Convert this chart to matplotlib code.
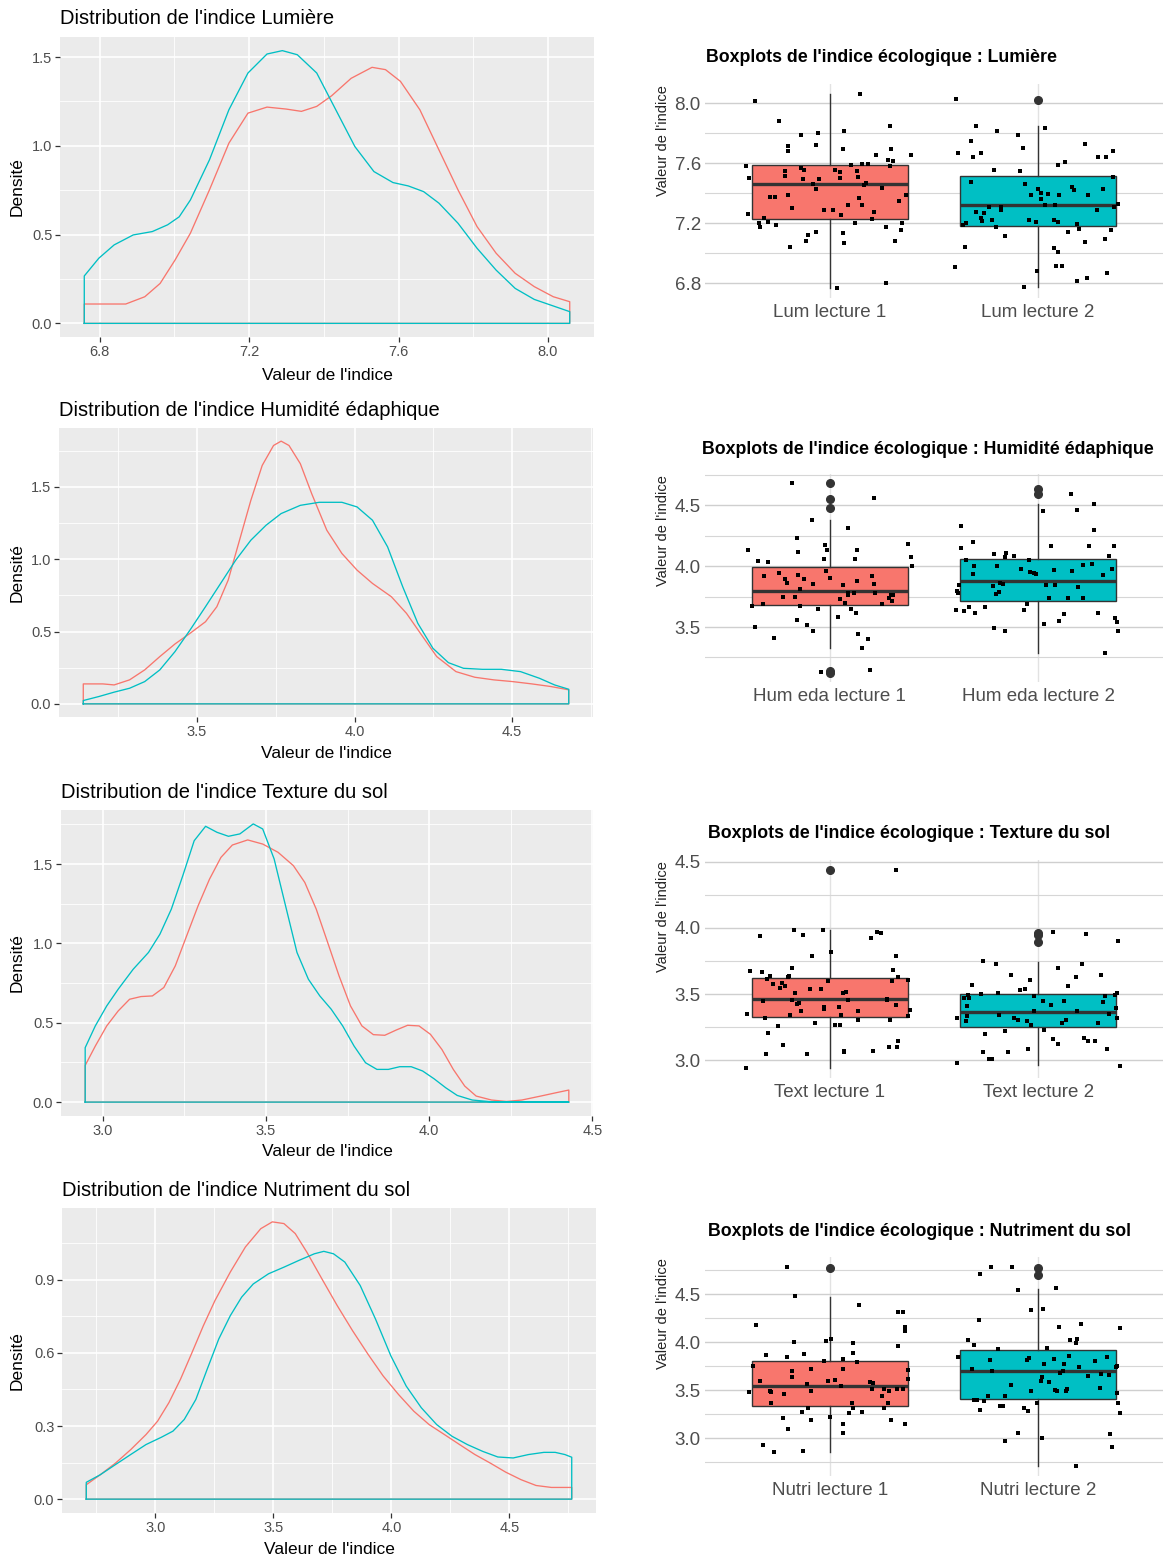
import numpy as np
import matplotlib.pyplot as plt
from matplotlib.ticker import MultipleLocator, FixedLocator

plt.rcParams['font.family'] = ['Liberation Sans', 'DejaVu Sans']

W, H = 1164, 1562
RED = "#F8766D"
TEAL = "#00BFC4"

# ---------------- density curves ----------------
lum_red_x = [6.759, 6.870, 6.921, 6.962, 7.002, 7.043, 7.094, 7.146, 7.197, 7.248, 7.299, 7.340, 7.381,
             7.421, 7.473, 7.529, 7.565, 7.605, 7.657, 7.708, 7.759, 7.810, 7.861, 7.912, 7.963, 8.014, 8.058]
lum_red_y = [0.109, 0.109, 0.150, 0.225, 0.357, 0.508, 0.752, 1.015, 1.184, 1.218, 1.207, 1.194, 1.222,
             1.282, 1.380, 1.442, 1.429, 1.363, 1.203, 0.977, 0.752, 0.545, 0.395, 0.282, 0.207, 0.150, 0.122]
lum_teal_x = [6.759, 6.798, 6.839, 6.890, 6.941, 6.982, 7.013, 7.043, 7.094, 7.146, 7.197, 7.248, 7.289,
              7.329, 7.381, 7.432, 7.483, 7.534, 7.585, 7.626, 7.667, 7.708, 7.759, 7.810, 7.861, 7.912,
              7.963, 8.014, 8.058]
lum_teal_y = [0.267, 0.367, 0.442, 0.498, 0.517, 0.555, 0.600, 0.695, 0.921, 1.203, 1.410, 1.517, 1.536,
              1.513, 1.410, 1.203, 0.996, 0.855, 0.793, 0.774, 0.742, 0.677, 0.564, 0.423, 0.300, 0.197,
              0.135, 0.098, 0.066]

hum_red_x = [3.139, 3.201, 3.237, 3.286, 3.334, 3.382, 3.430, 3.478, 3.527, 3.563, 3.599, 3.635, 3.671,
             3.707, 3.743, 3.767, 3.792, 3.828, 3.864, 3.912, 3.960, 4.008, 4.057, 4.117, 4.165, 4.213,
             4.261, 4.322, 4.382, 4.442, 4.502, 4.563, 4.623, 4.680]
hum_red_y = [0.138, 0.138, 0.131, 0.166, 0.235, 0.327, 0.414, 0.488, 0.568, 0.672, 0.856, 1.132, 1.408,
             1.649, 1.787, 1.817, 1.787, 1.661, 1.454, 1.201, 1.040, 0.925, 0.833, 0.741, 0.626, 0.476,
             0.327, 0.223, 0.184, 0.166, 0.154, 0.138, 0.120, 0.097]
hum_teal_x = [3.139, 3.189, 3.237, 3.286, 3.334, 3.382, 3.430, 3.478, 3.527, 3.575, 3.623, 3.671, 3.719,
              3.767, 3.828, 3.888, 3.960, 4.008, 4.057, 4.105, 4.153, 4.201, 4.249, 4.298, 4.346, 4.406,
              4.466, 4.527, 4.587, 4.635, 4.680]
hum_teal_y = [0.023, 0.051, 0.081, 0.108, 0.154, 0.235, 0.361, 0.511, 0.672, 0.833, 0.994, 1.132, 1.235,
              1.316, 1.373, 1.394, 1.394, 1.362, 1.270, 1.086, 0.810, 0.557, 0.384, 0.285, 0.246, 0.239,
              0.239, 0.223, 0.177, 0.131, 0.101]

tex_red_x = [2.946, 2.977, 3.012, 3.047, 3.082, 3.117, 3.152, 3.187, 3.222, 3.257, 3.292, 3.327, 3.362,
             3.397, 3.444, 3.490, 3.537, 3.584, 3.619, 3.654, 3.689, 3.724, 3.759, 3.794, 3.829, 3.864,
             3.899, 3.934, 3.969, 4.004, 4.039, 4.074, 4.109, 4.144, 4.191, 4.237, 4.284, 4.342, 4.389, 4.428]
tex_red_y = [0.231, 0.353, 0.480, 0.574, 0.648, 0.665, 0.669, 0.722, 0.858, 1.048, 1.237, 1.405, 1.542,
             1.620, 1.652, 1.626, 1.574, 1.490, 1.384, 1.216, 1.006, 0.795, 0.606, 0.480, 0.425, 0.421,
             0.454, 0.484, 0.480, 0.427, 0.332, 0.206, 0.101, 0.038, 0.013, 0.004, 0.013, 0.038, 0.059, 0.076]
tex_teal_x = [2.946, 2.977, 3.012, 3.047, 3.093, 3.140, 3.175, 3.210, 3.245, 3.280, 3.315, 3.350, 3.385,
              3.420, 3.461, 3.490, 3.525, 3.560, 3.595, 3.630, 3.665, 3.700, 3.735, 3.770, 3.805, 3.840,
              3.875, 3.910, 3.945, 3.980, 4.015, 4.051, 4.086, 4.132, 4.191, 4.261, 4.428]
tex_teal_y = [0.343, 0.480, 0.606, 0.711, 0.837, 0.943, 1.058, 1.216, 1.426, 1.647, 1.738, 1.700, 1.675,
              1.690, 1.753, 1.721, 1.532, 1.237, 0.943, 0.774, 0.669, 0.585, 0.480, 0.353, 0.248, 0.206,
              0.206, 0.223, 0.223, 0.196, 0.147, 0.090, 0.042, 0.013, 0.002, 0.0, 0.0]

nut_red_x = [2.708, 2.767, 2.832, 2.896, 2.961, 3.010, 3.058, 3.107, 3.156, 3.204, 3.253, 3.318, 3.382,
             3.447, 3.496, 3.545, 3.593, 3.642, 3.706, 3.771, 3.836, 3.901, 3.965, 4.030, 4.095, 4.160,
             4.225, 4.289, 4.354, 4.419, 4.484, 4.549, 4.613, 4.678, 4.764]
nut_red_y = [0.059, 0.100, 0.148, 0.203, 0.265, 0.320, 0.396, 0.492, 0.602, 0.712, 0.815, 0.932, 1.035,
             1.110, 1.138, 1.131, 1.090, 1.014, 0.904, 0.794, 0.691, 0.595, 0.506, 0.430, 0.361, 0.306,
             0.265, 0.224, 0.183, 0.148, 0.111, 0.080, 0.056, 0.048, 0.048]
nut_teal_x = [2.708, 2.767, 2.832, 2.896, 2.961, 3.026, 3.075, 3.123, 3.172, 3.220, 3.269, 3.318, 3.366,
              3.415, 3.480, 3.545, 3.609, 3.674, 3.714, 3.755, 3.803, 3.868, 3.933, 3.998, 4.063, 4.127,
              4.192, 4.257, 4.322, 4.387, 4.451, 4.516, 4.581, 4.646, 4.694, 4.735, 4.764]
nut_teal_y = [0.069, 0.100, 0.142, 0.183, 0.224, 0.254, 0.279, 0.327, 0.409, 0.533, 0.657, 0.753, 0.829,
              0.883, 0.925, 0.952, 0.980, 1.007, 1.017, 1.007, 0.973, 0.877, 0.739, 0.588, 0.464, 0.375,
              0.306, 0.258, 0.224, 0.196, 0.173, 0.169, 0.183, 0.192, 0.192, 0.183, 0.172]

# ---------------- boxplot statistics ----------------
# (whislo, q1, med, q3, whishi)
lum_box = [(6.767, 7.225, 7.460, 7.586, 8.062), (6.774, 7.181, 7.320, 7.513, 7.845)]
lum_fliers = [[], [8.022]]
hum_box = [(3.324, 3.684, 3.797, 3.989, 4.376), (3.286, 3.712, 3.874, 4.055, 4.508)]
hum_fliers = [[4.679, 4.555, 4.478, 3.140, 3.126], [4.632, 4.591]]
tex_box = [(2.941, 3.324, 3.466, 3.622, 3.987), (2.961, 3.249, 3.362, 3.501, 3.743)]
tex_fliers = [[4.436], [3.962, 3.945, 3.894]]
nut_box = [(2.862, 3.332, 3.548, 3.802, 4.470), (2.712, 3.412, 3.697, 3.923, 4.557)]
nut_fliers = [[4.776], [4.776, 4.696]]

# ---------------- jittered points: horizontal offset, value ----------------
lum1_off = [-0.36, -0.246, -0.402, -0.388, -0.395, -0.343, -0.336, -0.315, -0.295, -0.286, -0.263, -0.26,
            -0.199, -0.191, -0.18, -0.217, -0.215, -0.199, -0.199, -0.139, -0.139, -0.125, -0.13, -0.116,
            -0.104, -0.069, -0.069, -0.066, -0.081, -0.055, -0.052, -0.026, 0.017, 0.026, 0.035, 0.049,
            0.049, 0.052, 0.061, 0.066, 0.062, 0.069, 0.087, 0.101, 0.121, 0.13, 0.135, 0.139, 0.146, 0.153,
            0.153, 0.163, 0.173, 0.182, 0.201, 0.211, 0.222, 0.251, 0.269, 0.269, 0.277, 0.288, 0.291,
            0.295, 0.303, 0.312, 0.333, 0.34, 0.347, 0.364, 0.39]
lum1_val = [8.011, 7.88, 7.579, 7.502, 7.263, 7.199, 7.172, 7.236, 7.205, 7.376, 7.376, 7.185, 7.387, 7.044,
            7.303, 7.546, 7.517, 7.712, 7.681, 7.785, 7.568, 7.553, 7.493, 7.079, 7.121, 7.143, 7.721,
            7.427, 7.464, 7.803, 7.493, 7.287, 7.285, 7.557, 6.767, 7.504, 7.542, 7.252, 7.137, 7.066,
            7.697, 7.812, 7.32, 7.59, 7.203, 7.546, 7.506, 7.369, 8.062, 7.318, 7.595, 7.455, 7.469, 7.595,
            7.23, 7.278, 7.655, 7.433, 6.8, 7.176, 7.624, 7.847, 7.579, 7.697, 7.615, 7.079, 7.349, 7.154,
            7.203, 7.385, 7.657]
lum2_off = [-0.393, -0.385, -0.321, -0.3, -0.314, -0.272, -0.324, -0.199, -0.095, -0.071, -0.088, -0.213,
            -0.296, -0.258, -0.272, -0.27, -0.234, -0.22, -0.179, -0.179, -0.359, -0.348, -0.352, -0.397,
            -0.203, -0.158, -0.068, -0.007, 0.033, -0.064, -0.033, 0.0, 0.014, 0.016, 0.049, -0.042, -0.012,
            0.033, 0.083, 0.078, 0.095, 0.095, 0.13, 0.101, 0.078, 0.095, 0.088, 0.114, 0.144, 0.172, 0.161,
            0.187, 0.196, 0.227, 0.227, 0.234, 0.187, 0.239, 0.282, 0.286, 0.314, 0.326, 0.322, 0.331,
            0.348, 0.36, 0.362, 0.366, 0.386]
lum2_val = [8.024, 7.67, 7.745, 7.845, 7.639, 7.67, 7.475, 7.812, 7.787, 7.703, 7.548, 7.557, 7.276, 7.269,
            7.232, 7.216, 7.305, 7.221, 7.287, 7.305, 7.187, 7.203, 7.039, 6.906, 7.176, 7.114, 6.778,
            6.884, 7.836, 7.46, 7.387, 7.431, 7.358, 7.398, 7.394, 7.221, 7.21, 7.32, 7.32, 7.221, 7.21,
            7.59, 7.608, 7.387, 7.033, 7.01, 6.915, 6.915, 7.139, 7.424, 7.442, 7.192, 7.161, 7.73, 7.077,
            6.833, 6.818, 7.387, 7.287, 7.641, 7.431, 7.641, 7.092, 6.871, 7.154, 7.679, 7.509, 7.309, 7.331]

hum1_off = [-0.392, -0.373, -0.358, -0.344, -0.317, -0.32, -0.296, -0.267, -0.245, -0.223, -0.214, -0.207,
            -0.182, -0.166, -0.159, -0.158, -0.151, -0.151, -0.146, -0.146, -0.125, -0.111, -0.086, -0.082,
            -0.08, -0.057, -0.043, -0.029, -0.022, -0.019, -0.012, 0.002, 0.038, 0.05, 0.063, 0.072, 0.086,
            0.087, 0.087, 0.101, 0.115, 0.123, 0.128, 0.135, 0.12, 0.132, 0.156, 0.183, 0.192, 0.204, 0.212,
            0.217, 0.212, 0.252, 0.286, 0.296, 0.295, 0.303, 0.375, 0.389, 0.392]
hum1_val = [4.129, 3.676, 3.503, 4.041, 3.915, 3.69, 4.033, 3.412, 3.942, 3.745, 3.896, 3.865, 4.679, 3.745,
            4.234, 3.555, 4.113, 3.931, 3.813, 3.673, 3.893, 3.519, 4.376, 3.47, 3.854, 3.648, 3.132, 4.06,
            4.176, 3.964, 4.129, 3.904, 3.58, 3.728, 3.841, 3.695, 4.316, 3.766, 3.777, 3.648, 3.777, 3.618,
            4.135, 3.442, 4.06, 3.876, 3.324, 3.401, 3.146, 3.923, 4.563, 3.777, 3.854, 3.69, 3.739, 3.717,
            3.766, 3.766, 4.179, 4.074, 4.005]
hum2_off = [-0.389, -0.384, -0.378, -0.392, -0.368, -0.368, -0.358, -0.344, -0.33, -0.312, -0.303, -0.312,
            -0.307, -0.255, -0.212, -0.217, -0.212, -0.2, -0.197, -0.19, -0.185, -0.17, -0.161, -0.159,
            -0.152, -0.115, -0.08, -0.067, -0.055, -0.046, -0.038, -0.022, -0.009, 0.022, 0.029, 0.039,
            0.053, 0.06, 0.082, 0.077, 0.099, 0.125, 0.142, 0.159, 0.163, 0.185, 0.193, 0.214, 0.217, 0.245,
            0.26, 0.267, 0.267, 0.288, 0.313, 0.322, 0.339, 0.356, 0.365, 0.37, 0.377, 0.382]
hum2_val = [3.794, 3.777, 3.849, 3.64, 4.327, 4.148, 3.629, 4.047, 3.668, 4.198, 3.613, 3.937, 3.997, 3.668,
            4.102, 3.835, 3.492, 3.772, 3.997, 3.786, 3.86, 3.854, 3.47, 4.074, 4.107, 4.08, 3.978, 3.64,
            3.69, 4.047, 3.953, 3.942, 3.937, 4.453, 3.525, 3.849, 3.739, 4.168, 3.849, 3.97, 3.552, 3.607,
            3.739, 4.591, 3.959, 4.459, 3.832, 3.739, 4.011, 4.162, 4.019, 4.514, 4.294, 3.613, 3.931, 3.283,
            4.08, 3.973, 4.162, 3.574, 3.544, 3.47]

tex1_off = [-0.404, -0.398, -0.386, -0.337, -0.325, -0.319, -0.311, -0.307, -0.302, -0.298, -0.289, -0.272,
            -0.249, -0.24, -0.228, -0.223, -0.218, -0.202, -0.195, -0.193, -0.184, -0.184, -0.172, -0.167,
            -0.156, -0.149, -0.14, -0.13, -0.109, -0.096, -0.084, -0.074, -0.044, -0.035, -0.03, -0.026,
            -0.009, 0.005, 0.026, 0.044, 0.047, 0.054, 0.061, 0.068, 0.068, 0.079, 0.089, 0.135, 0.135,
            0.195, 0.205, 0.226, 0.246, 0.272, 0.272, 0.282, 0.289, 0.298, 0.302, 0.316, 0.318, 0.319,
            0.321, 0.325, 0.328, 0.374, 0.377, 0.384]
tex1_val = [2.941, 3.352, 3.672, 3.937, 3.665, 3.445, 3.319, 3.045, 3.612, 3.206, 3.635, 3.579, 3.256, 3.546,
            3.584, 3.113, 3.561, 3.632, 3.634, 3.34, 3.697, 3.455, 3.987, 3.508, 3.425, 3.433, 3.37, 3.95,
            3.045, 3.541, 3.786, 3.284, 3.541, 3.987, 3.4, 3.385, 3.597, 3.819, 3.264, 3.402, 3.264, 3.34,
            3.506, 3.072, 3.062, 3.516, 3.458, 3.304, 3.37, 3.924, 3.067, 3.97, 3.96, 3.466, 3.455, 3.103,
            3.302, 3.597, 3.682, 3.786, 3.42, 4.439, 3.103, 3.143, 3.627, 3.609, 3.332, 3.377]
tex2_off = [-0.389, -0.389, -0.354, -0.346, -0.342, -0.342, -0.339, -0.333, -0.316, -0.272, -0.263, -0.263,
            -0.254, -0.237, -0.219, -0.202, -0.191, -0.188, -0.158, -0.144, -0.128, -0.114, -0.096, -0.088,
            -0.061, -0.051, -0.049, -0.04, -0.035, -0.021, -0.018, 0.026, 0.023, 0.072, 0.061, 0.074, 0.096,
            0.096, 0.114, 0.123, 0.132, 0.142, 0.181, 0.188, 0.209, 0.23, 0.219, 0.24, 0.275, 0.289, 0.304,
            0.312, 0.321, 0.333, 0.342, 0.368, 0.374, 0.377, 0.377, 0.382, 0.395]
tex2_val = [2.979, 3.319, 3.471, 3.299, 3.332, 3.413, 3.496, 3.471, 3.566, 3.501, 3.748, 3.062, 3.198, 3.009,
            3.009, 3.73, 3.508, 3.345, 3.219, 3.062, 3.647, 3.319, 3.302, 3.534, 3.541, 3.299, 3.087, 3.609,
            3.269, 3.37, 3.483, 3.231, 3.445, 3.97, 3.42, 3.161, 3.697, 3.123, 3.279, 3.445, 3.302, 3.559,
            3.627, 3.37, 3.73, 3.955, 3.168, 3.143, 3.143, 3.279, 3.647, 3.44, 3.483, 3.087, 3.35, 3.496,
            3.395, 3.508, 3.319, 3.904, 2.959]

nut1_off = [-0.391, -0.368, -0.354, -0.337, -0.321, -0.307, -0.289, -0.281, -0.281, -0.268, -0.226, -0.219,
            -0.207, -0.205, -0.202, -0.184, -0.181, -0.172, -0.167, -0.132, -0.128, -0.123, -0.111, -0.105,
            -0.093, -0.091, -0.091, -0.026, -0.019, -0.009, 0.0, 0.005, 0.023, 0.053, 0.061, 0.061, 0.061,
            0.061, 0.093, 0.105, 0.111, 0.111, 0.111, 0.132, 0.142, 0.154, 0.193, 0.202, 0.207, 0.251, 0.258,
            0.261, 0.281, 0.286, 0.295, 0.321, 0.325, 0.325, 0.351, 0.349, 0.363, 0.363, 0.363, 0.377, 0.377]
nut1_val = [3.485, 3.749, 4.181, 3.6, 2.931, 3.864, 3.495, 3.485, 3.363, 2.862, 3.21, 3.46, 4.783, 3.843,
            3.102, 3.697, 3.635, 4.0, 4.477, 3.276, 2.869, 3.878, 3.565, 3.314, 3.722, 3.495, 3.192, 3.809,
            4.017, 3.6, 3.224, 4.038, 3.61, 3.548, 3.822, 3.722, 3.147, 3.053, 3.262, 3.367, 3.314, 3.993,
            3.892, 3.798, 4.39, 3.276, 3.582, 3.513, 3.572, 3.436, 3.314, 3.513, 3.367, 3.488, 3.192, 3.513,
            3.958, 4.31, 4.31, 3.513, 4.157, 4.115, 3.147, 3.617, 3.711]
nut2_off = [-0.386, -0.339, -0.319, -0.307, -0.307, -0.293, -0.286, -0.281, -0.281, -0.258, -0.24, -0.232,
            -0.226, -0.219, -0.193, -0.181, -0.17, -0.158, -0.158, -0.132, -0.123, -0.096, -0.096, -0.07,
            -0.047, -0.051, -0.044, -0.035, -0.035, -0.005, 0.012, 0.018, 0.023, 0.019, 0.03, 0.044, 0.053,
            0.075, 0.082, 0.086, 0.093, 0.1, 0.105, 0.118, 0.125, 0.132, 0.14, 0.149, 0.153, 0.184, 0.188,
            0.181, 0.195, 0.207, 0.24, 0.272, 0.298, 0.304, 0.333, 0.342, 0.347, 0.356, 0.374, 0.377, 0.382,
            0.395, 0.395, 0.377]
nut2_val = [3.843, 4.024, 3.722, 3.976, 3.398, 3.398, 4.233, 4.707, 3.3, 3.391, 3.443, 3.816, 4.783, 3.697,
            3.93, 3.332, 3.339, 2.973, 3.436, 3.554, 4.783, 4.539, 3.053, 3.314, 3.28, 3.816, 3.833, 4.331,
            3.488, 3.373, 3.6, 3.641, 4.348, 3.008, 3.774, 3.937, 3.582, 3.826, 3.502, 4.567, 3.488, 4.157,
            3.68, 3.704, 3.774, 3.495, 3.513, 3.854, 4.024, 3.99, 4.035, 2.712, 3.739, 4.191, 3.652, 3.802,
            3.523, 3.669, 3.85, 3.662, 3.043, 2.911, 3.739, 3.471, 3.373, 4.146, 3.259, 3.757]

# ---------------- panel texts and layout ----------------
density_titles = ["Distribution de l'indice Lumière", "Distribution de l'indice Humidité édaphique",
                  "Distribution de l'indice Texture du sol", "Distribution de l'indice Nutriment du sol"]
box_titles = ["Boxplots de l'indice écologique : Lumière", "Boxplots de l'indice écologique : Humidité édaphique",
              "Boxplots de l'indice écologique : Texture du sol", "Boxplots de l'indice écologique : Nutriment du sol"]
box_labels = [["Lum lecture 1", "Lum lecture 2"], ["Hum eda lecture 1", "Hum eda lecture 2"],
              ["Text lecture 1", "Text lecture 2"], ["Nutri lecture 1", "Nutri lecture 2"]]
density_xticks = [[6.8, 7.2, 7.6, 8.0], [3.5, 4.0, 4.5], [3.0, 3.5, 4.0, 4.5], [3.0, 3.5, 4.0, 4.5]]
density_xstep = [0.4, 0.5, 0.5, 0.5]
density_ystep = [0.5, 0.5, 0.5, 0.3]
box_ystep = [0.4, 0.5, 0.5, 0.5]

# pixel boxes (left, top, right, bottom)
left_boxes = [(60, 37, 594, 337), (59, 428, 593, 717), (61, 810, 593, 1116), (62, 1208, 596, 1513)]
right_boxes = [(705, 84, 1163, 298), (705, 474, 1163, 682), (705, 860, 1163, 1078), (705, 1257, 1163, 1476)]
left_title_y = [18, 410, 793, 1190]
left_xlab_y = [375, 753, 1152, 1550]
right_title_x = [706, 702, 708, 708]
right_title_y = [58, 450, 833, 1232]


def px_axes(fig, box):
    l, t, r, b = box
    return fig.add_axes([l / W, 1 - b / H, (r - l) / W, (b - t) / H])


def expand(lo, hi, frac=0.05):
    d = (hi - lo) * frac
    return lo - d, hi + d


def density_panel(fig, i, rx, ry, tx, ty):
    ax = px_axes(fig, left_boxes[i])
    ax.set_facecolor("#EBEBEB")
    for s in ax.spines.values():
        s.set_visible(False)
    for x, y, c in [(rx, ry, RED), (tx, ty, TEAL)]:
        xs = [x[0]] + list(x) + [x[-1], x[0]]
        ys = [0] + list(y) + [0, 0]
        ax.plot(xs, ys, color=c, lw=0.95, solid_joinstyle="round", zorder=3)
    xmin = min(rx[0], tx[0])
    xmax = max(rx[-1], tx[-1])
    ax.set_xlim(*expand(xmin, xmax))
    ax.set_ylim(*expand(0, max(max(ry), max(ty))))
    ax.xaxis.set_major_locator(FixedLocator(density_xticks[i]))
    ax.yaxis.set_major_locator(MultipleLocator(density_ystep[i]))
    ax.xaxis.set_minor_locator(MultipleLocator(density_xstep[i] / 2))
    ax.yaxis.set_minor_locator(MultipleLocator(density_ystep[i] / 2))
    ax.grid(which="major", color="white", lw=1.2, zorder=1)
    ax.grid(which="minor", color="white", lw=0.6, zorder=1)
    ax.set_axisbelow(True)
    ax.tick_params(which="major", length=3.5, width=0.9, color="#333333", labelcolor="#4D4D4D",
                   labelsize=10.5, pad=2)
    ax.tick_params(which="minor", length=0)
    ax.yaxis.set_major_formatter(plt.FuncFormatter(lambda v, p: f"{v:.1f}"))
    ax.xaxis.set_major_formatter(plt.FuncFormatter(lambda v, p: f"{v:.1f}"))

    l, t, r, b = left_boxes[i]
    fig.text(l / W, 1 - left_title_y[i] / H, density_titles[i], fontsize=14.5, ha="left", va="center",
             color="black")
    fig.text((l + r) / 2 / W, 1 - left_xlab_y[i] / H, "Valeur de l'indice", fontsize=12.5,
             ha="center", va="center")
    fig.text(17 / W, 1 - (t + b) / 2 / H, "Densité", fontsize=12.5, rotation=90, ha="center", va="center")


def box_panel(fig, i, box, fliers, off1, val1, off2, val2):
    ax = px_axes(fig, right_boxes[i])
    for s in ax.spines.values():
        s.set_visible(False)
    stats = []
    for (lo, q1, med, q3, hi), fl in zip(box, fliers):
        stats.append(dict(whislo=lo, q1=q1, med=med, q3=q3, whishi=hi, fliers=fl))
    ax.bxp(stats, positions=[1, 2], widths=0.75, patch_artist=True, showcaps=False,
           boxprops=dict(edgecolor="#333333", lw=1.0),
           whiskerprops=dict(color="#333333", lw=1.0),
           medianprops=dict(color="#333333", lw=2.4),
           flierprops=dict(marker="o", markerfacecolor="#333333", markeredgecolor="#333333",
                           markersize=5.5), zorder=3)
    for patch, c in zip(ax.patches, [RED, TEAL]):
        patch.set_facecolor(c)
    ax.scatter(1 + np.array(off1), val1, s=5.5, marker="s", color="black", lw=0, zorder=5)
    ax.scatter(2 + np.array(off2), val2, s=5.5, marker="s", color="black", lw=0, zorder=5)

    allv = list(val1) + list(val2) + [v for b in box for v in (b[0], b[4])] + [f for fl in fliers for f in fl]
    ax.set_ylim(*expand(min(allv), max(allv)))
    ax.set_xlim(0.4, 2.6)
    ax.set_xticks([1, 2])
    ax.set_xticklabels(box_labels[i])
    ax.yaxis.set_major_locator(MultipleLocator(box_ystep[i]))
    ax.yaxis.set_minor_locator(MultipleLocator(box_ystep[i] / 2))
    ax.yaxis.set_major_formatter(plt.FuncFormatter(lambda v, p: f"{v:.1f}"))
    ax.grid(axis="y", which="major", color="#CFCFCF", lw=1.0, zorder=0)
    ax.grid(axis="y", which="minor", color="#D6D6D6", lw=0.8, zorder=0)
    ax.grid(axis="x", which="major", color="#E2E2E2", lw=1.0, zorder=0)
    ax.set_axisbelow(True)
    ax.tick_params(which="both", length=0, labelcolor="#4D4D4D", labelsize=13.5)
    ax.tick_params(axis="x", pad=4)
    ax.tick_params(axis="y", pad=3)

    l, t, r, b = right_boxes[i]
    fig.text(right_title_x[i] / W, 1 - right_title_y[i] / H, box_titles[i], fontsize=12.8,
             fontweight="bold", ha="left", va="center")
    fig.text(663 / W, 1 - (t + 1) / H, "Valeur de l'indice", fontsize=10.5, rotation=90,
             ha="center", va="top", color="#222222")


fig = plt.figure(figsize=(W / 100, H / 100), dpi=100)
fig.patch.set_facecolor("white")

density_panel(fig, 0, lum_red_x, lum_red_y, lum_teal_x, lum_teal_y)
density_panel(fig, 1, hum_red_x, hum_red_y, hum_teal_x, hum_teal_y)
density_panel(fig, 2, tex_red_x, tex_red_y, tex_teal_x, tex_teal_y)
density_panel(fig, 3, nut_red_x, nut_red_y, nut_teal_x, nut_teal_y)

box_panel(fig, 0, lum_box, lum_fliers, lum1_off, lum1_val, lum2_off, lum2_val)
box_panel(fig, 1, hum_box, hum_fliers, hum1_off, hum1_val, hum2_off, hum2_val)
box_panel(fig, 2, tex_box, tex_fliers, tex1_off, tex1_val, tex2_off, tex2_val)
box_panel(fig, 3, nut_box, nut_fliers, nut1_off, nut1_val, nut2_off, nut2_val)

fig.savefig("out.png", dpi=100)
